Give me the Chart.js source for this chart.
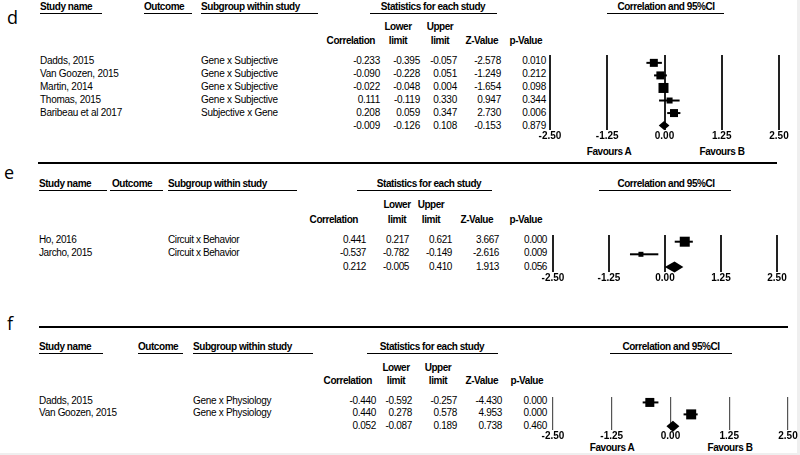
<!DOCTYPE html>
<html>
<head>
<meta charset="utf-8">
<script src="https://cdn.jsdelivr.net/npm/chart.js@4.4.0/dist/chart.umd.min.js"></script>
<style>
html, body { margin: 0; padding: 0; overflow: hidden; background: #efefef; }
#page { position: absolute; left: 0; top: 0; width: 797px; height: 453px; background: #fff;
        font-family: "Liberation Sans", Arial, sans-serif; color: #000; }
.t { position: absolute; font-size: 10px; line-height: 12px; white-space: nowrap; }
.b { font-weight: bold; letter-spacing: -0.45px; }
.r { transform: translateX(-100%); }
.c { transform: translateX(-50%); }
.ul { position: absolute; height: 1px; background: #000; }
.sep { position: absolute; height: 2px; background: #000; }
.lab { position: absolute; font-family: "Open Sans", sans-serif; font-size: 18px; line-height: 20px; }
canvas { position: absolute; }
</style>
</head>
<body>
<div id="page"></div>
<script>
// panel d
const studiesD = ['Dadds, 2015', 'Van Goozen, 2015', 'Martin, 2014', 'Thomas, 2015', 'Baribeau et al 2017'];
const subgroupsD = ['Gene x Subjective', 'Gene x Subjective', 'Gene x Subjective', 'Gene x Subjective', 'Subjective x Gene'];
const corrD = [-0.233, -0.090, -0.022, 0.111, 0.208, -0.009];
const lowerD = [-0.395, -0.228, -0.048, -0.119, 0.059, -0.126];
const upperD = [-0.057, 0.051, 0.004, 0.330, 0.347, 0.108];
const zD = [-2.578, -1.249, -1.654, 0.947, 2.730, -0.153];
const pD = [0.010, 0.212, 0.098, 0.344, 0.006, 0.879];

// panel e
const studiesE = ['Ho, 2016', 'Jarcho, 2015'];
const subgroupsE = ['Circuit x Behavior', 'Circuit x Behavior'];
const corrE = [0.441, -0.537, 0.212];
const lowerE = [0.217, -0.782, -0.005];
const upperE = [0.621, -0.149, 0.410];
const zE = [3.667, -2.616, 1.913];
const pE = [0.000, 0.009, 0.056];

// panel f
const studiesF = ['Dadds, 2015', 'Van Goozen, 2015'];
const subgroupsF = ['Gene x Physiology', 'Gene x Physiology'];
const corrF = [-0.440, 0.440, 0.052];
const lowerF = [-0.592, 0.278, -0.087];
const upperF = [-0.257, 0.578, 0.189];
const zF = [-4.430, 4.953, 0.738];
const pF = [0.000, 0.000, 0.460];

const axisTicks = [-2.5, -1.25, 0, 1.25, 2.5];
const colHeads = ['Study name', 'Outcome', 'Subgroup within study'];

const page = document.getElementById('page');

function txt(x, y, s, cls) {
    const d = document.createElement('div');
    d.className = 't ' + (cls || '');
    d.style.left = x + 'px';
    d.style.top = (y - 6) + 'px';
    d.textContent = s;
    page.appendChild(d);
    return d;
}

function hline(x0, x1, y, cls) {
    const d = document.createElement('div');
    d.className = cls;
    d.style.left = x0 + 'px';
    d.style.top = y + 'px';
    d.style.width = (x1 - x0) + 'px';
    page.appendChild(d);
}

function panel(L, names, subs, corr, lower, upper, z, p) {
    const n = names.length;

    const lab = document.createElement('div');
    lab.className = 'lab';
    lab.style.left = L.letterX + 'px';
    lab.style.top = L.letterTop + 'px';
    lab.textContent = L.letter;
    page.appendChild(lab);

    // header row
    colHeads.forEach((h, i) => {
        txt(L.cols[i], L.headY, h, 'b');
        hline(L.ul[i][0], L.ul[i][1], L.ulY, 'ul');
    });
    txt(L.stats.cx, L.headY, 'Statistics for each study', 'b c');
    hline(L.stats.ul[0], L.stats.ul[1], L.ulY, 'ul');
    txt(L.ci.cx, L.headY, 'Correlation and 95%CI', 'b c');
    hline(L.ci.ul[0], L.ci.ul[1], L.ulY, 'ul');

    txt(L.hdr.lower, L.row2Y, 'Lower', 'b c');
    txt(L.hdr.upper, L.row2Y, 'Upper', 'b c');
    txt(L.hdr.corr, L.row3Y, 'Correlation', 'b r');
    txt(L.hdr.lower, L.row3Y, 'limit', 'b c');
    txt(L.hdr.upper, L.row3Y, 'limit', 'b c');
    txt(L.hdr.z, L.row3Y, 'Z-Value', 'b r');
    txt(L.hdr.p, L.row3Y, 'p-Value', 'b r');

    // rows
    for (let i = 0; i <= n; i++) {
        const y = L.rowY + i * L.rowStep;
        if (i < n) {
            txt(L.cols[0], y, names[i]).style.letterSpacing = L.spacing;
            txt(L.cols[2], y, subs[i]).style.letterSpacing = L.spacing;
        }
        [corr, lower, upper, z, p].forEach((arr, k) => {
            txt(L.numRight[k], y, arr[i].toFixed(3), 'r').style.letterSpacing = L.spacing;
        });
    }

    if (L.favY) {
        txt(L.favA, L.favY, 'Favours A', 'b c');
        txt(L.favB, L.favY, 'Favours B', 'b c');
    }

    // forest plot
    const P = L.plot;
    const padL = 20, padR = 11, padT = 5, padB = 2, axisH = 16;
    const cv = document.createElement('canvas');
    cv.width = P.x1 - P.x0 + padL + padR;
    cv.height = P.bottom - P.top + padT + padB + axisH;
    cv.style.left = (P.x0 - padL) + 'px';
    cv.style.top = (P.top - padT) + 'px';
    page.appendChild(cv);

    const yMin = -(L.rowY - P.top) / L.rowStep;
    const yMax = (P.bottom - L.rowY) / L.rowStep;

    const ciSets = [];
    for (let i = 0; i < n; i++) {
        ciSets.push({
            data: [{x: lower[i], y: i}, {x: upper[i], y: i}],
            showLine: true,
            borderColor: '#000',
            borderWidth: 2,
            pointRadius: 0
        });
    }

    const diamond = {
        id: 'diamond',
        afterDatasetsDraw(chart) {
            const sx = chart.scales.x, sy = chart.scales.y, ctx = chart.ctx;
            const yc = sy.getPixelForValue(n);
            const h = L.diamondH / 2;
            ctx.save();
            ctx.fillStyle = '#000';
            ctx.beginPath();
            ctx.moveTo(sx.getPixelForValue(lower[n]), yc);
            ctx.lineTo(sx.getPixelForValue(corr[n]), yc - h);
            ctx.lineTo(sx.getPixelForValue(upper[n]), yc);
            ctx.lineTo(sx.getPixelForValue(corr[n]), yc + h);
            ctx.closePath();
            ctx.fill();
            ctx.restore();
        }
    };

    new Chart(cv.getContext('2d'), {
        type: 'scatter',
        data: {
            datasets: [
                {
                    data: corr.slice(0, n).map((v, i) => ({x: v, y: i})),
                    pointStyle: 'rect',
                    pointRadius: L.box.map(s => s / Math.SQRT2),
                    backgroundColor: '#000',
                    borderWidth: 0
                },
                ...ciSets
            ]
        },
        options: {
            responsive: false,
            animation: false,
            devicePixelRatio: 1,
            layout: {padding: {left: padL, right: padR, top: padT, bottom: padB}},
            plugins: {legend: {display: false}, tooltip: {enabled: false}},
            scales: {
                x: {
                    type: 'linear',
                    min: axisTicks[0],
                    max: axisTicks[axisTicks.length - 1],
                    afterBuildTicks: s => { s.ticks = axisTicks.map(v => ({value: v})); },
                    afterFit: s => { s.height = axisH; },
                    grid: {color: L.grid, lineWidth: L.gridW, drawTicks: false},
                    border: {display: false},
                    ticks: {
                        padding: 0,
                        color: '#000',
                        font: {family: 'Liberation Sans', size: 10, weight: 'bold'},
                        callback: v => v.toFixed(2)
                    }
                },
                y: {
                    type: 'linear',
                    display: false,
                    reverse: true,
                    min: yMin,
                    max: yMax
                }
            }
        },
        plugins: [diamond]
    });
}

panel({
    letter: 'd', letterX: 7, letterTop: 7,
    headY: 7, ulY: 13, row2Y: 27, row3Y: 41,
    cols: [40, 144, 201],
    ul: [[40, 102], [144, 192], [201, 318]],
    stats: {cx: 433, ul: [370, 497]},
    ci: {cx: 666, ul: [607, 724]},
    hdr: {corr: 375, lower: 398, upper: 440, z: 498, p: 542},
    numRight: [380, 420, 457, 501, 546],
    rowY: 61, rowStep: 12.9,
    plot: {x0: 550, x1: 779, top: 53, bottom: 130},
    favY: 152, favA: 609, favB: 722,
    grid: '#222', gridW: 2,
    box: [8, 8, 10, 6, 8], diamondH: 9,
    spacing: '-0.25px'
}, studiesD, subgroupsD, corrD, lowerD, upperD, zD, pD);

hline(38, 777, 162, 'sep');

panel({
    letter: 'e', letterX: 4, letterTop: 162,
    headY: 184, ulY: 190, row2Y: 205, row3Y: 220,
    cols: [39, 112, 168],
    ul: [[39, 107], [110, 163], [168, 297]],
    stats: {cx: 429, ul: [357, 492]},
    ci: {cx: 666, ul: [599, 731]},
    hdr: {corr: 358, lower: 397, upper: 431, z: 493, p: 542},
    numRight: [366, 409, 452, 499, 547],
    rowY: 240, rowStep: 13.3,
    plot: {x0: 553, x1: 777, top: 233, bottom: 272},
    favY: 0,
    grid: '#222', gridW: 2,
    box: [10, 5], diamondH: 11,
    spacing: '-0.4px'
}, studiesE, subgroupsE, corrE, lowerE, upperE, zE, pE);

hline(39, 788, 326, 'sep');

panel({
    letter: 'f', letterX: 7, letterTop: 313,
    headY: 347, ulY: 353, row2Y: 368, row3Y: 381,
    cols: [39, 138, 193],
    ul: [[39, 103], [138, 183], [193, 313]],
    stats: {cx: 432, ul: [367, 498]},
    ci: {cx: 671, ul: [610, 732]},
    hdr: {corr: 372, lower: 396, upper: 438, z: 498, p: 543},
    numRight: [376, 412, 457, 502, 547],
    rowY: 400.7, rowStep: 12.7,
    plot: {x0: 553, x1: 788, top: 395, bottom: 430},
    favY: 448, favA: 612, favB: 730,
    grid: '#555', gridW: 1.2,
    box: [9, 10], diamondH: 11,
    spacing: '-0.3px'
}, studiesF, subgroupsF, corrF, lowerF, upperF, zF, pF);
</script>
</body>
</html>
